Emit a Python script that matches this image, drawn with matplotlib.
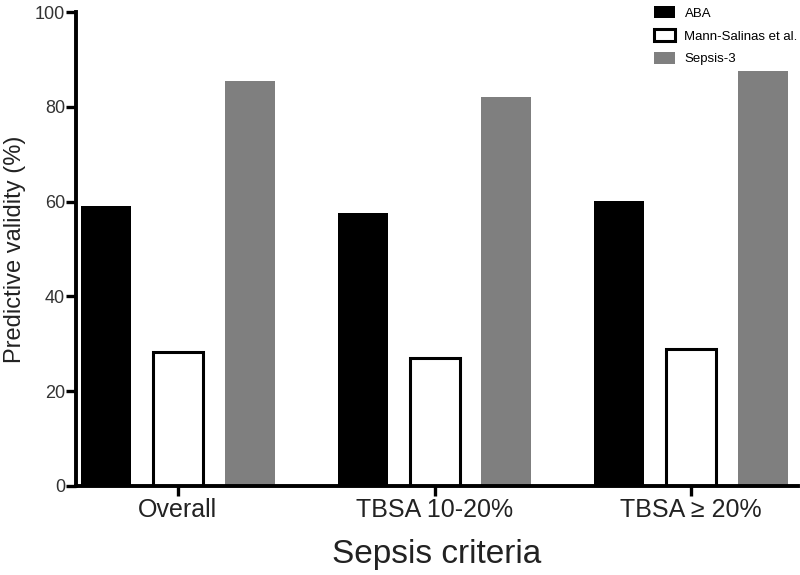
import numpy as np
import matplotlib
matplotlib.use("Agg")
import matplotlib.pyplot as plt

plt.rcParams['font.family'] = ['Liberation Sans', 'DejaVu Sans']

groups = ["Overall", "TBSA 10-20%", "TBSA \u2265 20%"]
series = ["ABA", "Mann-Salinas et al.", "Sepsis-3"]
aba = [59.1, 57.6, 60.1]
mann = [28.3, 27.0, 28.9]
sepsis3 = [85.4, 82.0, 87.5]

fig = plt.figure(figsize=(8, 5.75), dpi=100)
ax = fig.add_axes([0.095, 0.155, 0.9025, 0.824])

x = np.arange(len(groups))
step = 0.28
w = 0.195
ax.bar(x - step, aba, w, color="black", label=series[0])
ax.bar(x, mann, w, facecolor="white", edgecolor="black", linewidth=2.2, label=series[1])
ax.bar(x + step, sepsis3, w, color="#7f7f7f", label=series[2])

ax.set_xlim(-0.397, 2.416)
ax.set_ylim(0, 100)
ax.set_yticks([0, 20, 40, 60, 80, 100])
ax.set_xticks(x)
ax.set_xticklabels(groups, fontsize=18, color="#222222")
ax.tick_params(axis='y', labelsize=13, colors="black", labelcolor="#333333", width=2.4, length=7, direction='out', pad=1)
ax.tick_params(axis='x', width=2.4, length=7, direction='out', colors="black", labelcolor="#222222", pad=2)
for s in ['top', 'right']:
    ax.spines[s].set_visible(False)
for s in ['left', 'bottom']:
    ax.spines[s].set_linewidth(2.8)

ax.set_ylabel("Predictive validity (%)", fontsize=17, color="#222222", labelpad=6)
ax.set_xlabel("Sepsis criteria", fontsize=24, color="#222222", labelpad=12)

fig.legend(loc='upper right', bbox_to_anchor=(1.012, 1.01), frameon=False, fontsize=9.5,
           handlelength=1.6, handleheight=1.05, labelspacing=0.7, handletextpad=0.7)

fig.savefig("out.png", dpi=100)
